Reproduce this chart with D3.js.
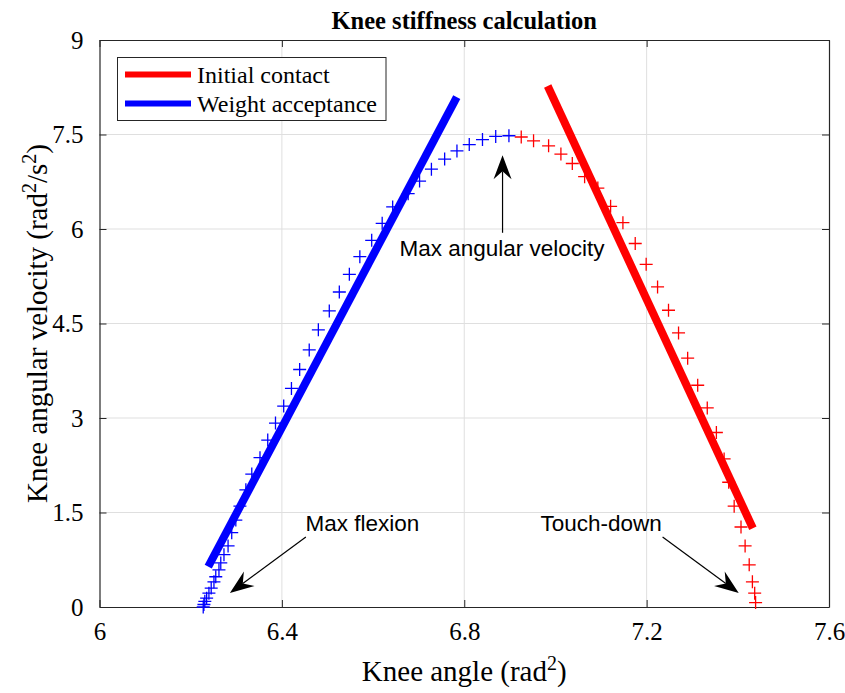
<!DOCTYPE html>
<html>
<head>
<meta charset="utf-8">
<script src="https://cdn.jsdelivr.net/npm/d3@7/dist/d3.min.js"></script>
<style>
  html, body { margin: 0; padding: 0; background: #fff; }
  svg { display: block; }
</style>
</head>
<body>
<script>
// ---------------- data ----------------
const blueX = [6.2275, 6.229, 6.231, 6.235, 6.240, 6.245, 6.251, 6.255, 6.262, 6.266, 6.273, 6.282, 6.290, 6.299, 6.308, 6.321, 6.334, 6.352, 6.369, 6.386, 6.404, 6.421, 6.439, 6.460, 6.480, 6.504, 6.526, 6.548, 6.571, 6.597, 6.620, 6.643, 6.677, 6.702, 6.728, 6.757, 6.784, 6.811, 6.840, 6.869, 6.898];
const blueY = [0.00, 0.04, 0.09, 0.14, 0.22, 0.30, 0.40, 0.48, 0.59, 0.70, 0.83, 0.97, 1.18, 1.38, 1.60, 1.86, 2.11, 2.37, 2.65, 2.92, 3.19, 3.47, 3.77, 4.08, 4.40, 4.70, 5.00, 5.28, 5.56, 5.82, 6.09, 6.35, 6.56, 6.76, 6.95, 7.11, 7.24, 7.34, 7.42, 7.47, 7.48];
const redX = [6.925, 6.952, 6.985, 7.012, 7.037, 7.064, 7.093, 7.121, 7.148, 7.175, 7.199, 7.224, 7.248, 7.270, 7.290, 7.312, 7.333, 7.353, 7.370, 7.380, 7.392, 7.407, 7.416, 7.425, 7.432, 7.437, 7.439];
const redY = [7.46, 7.40, 7.32, 7.19, 7.04, 6.83, 6.65, 6.36, 6.10, 5.77, 5.44, 5.08, 4.71, 4.35, 3.95, 3.52, 3.16, 2.77, 2.35, 1.98, 1.60, 1.27, 0.97, 0.67, 0.40, 0.22, 0.07];
// fitted stiffness lines (endpoints)
const blueFitX = [6.2385, 6.7836];
const blueFitY = [0.64, 8.095];
const redFitX = [6.983, 7.433];
const redFitY = [8.27, 1.25];
// axes ticks
const xTicks = [6, 6.4, 6.8, 7.2, 7.6];
const yTicks = [0, 1.5, 3, 4.5, 6, 7.5, 9];
const yTickLabels = ["0", "1.5", "3", "4.5", "6", "7.5", "9"];
// legend
const legendLabels = ["Initial contact", "Weight acceptance"];
const legendColors = ["#ff0000", "#0000ff"];
// annotations: text, text anchor (data), arrow tail, arrow tip (data)
const annoText = ["Max angular velocity", "Max flexion", "Touch-down"];
const annoTextX = [6.883, 6.5764, 7.1003];
const annoTextY = [5.57, 1.206, 1.206];
const arrowTailX = [6.884, 6.4526, 7.235];
const arrowTailY = [5.94, 1.11, 1.11];
const arrowTipX = [6.884, 6.286, 7.402];
const arrowTipY = [7.17, 0.222, 0.222];

// ---------------- layout ----------------
const W = 845, H = 693;
const m = { left: 99.5, top: 40, right: 845 - 829, bottom: 693 - 607 };
const svg = d3.select("body").append("svg").attr("width", W).attr("height", H);

const x = d3.scaleLinear().domain([6, 7.6]).range([m.left, W - m.right]);
const y = d3.scaleLinear().domain([0, 9]).range([H - m.bottom, m.top]);

const serif = "'Liberation Serif', 'Times New Roman', Times, serif";
const sans = "'Liberation Sans', Arial, Helvetica, sans-serif";

// grid
const grid = svg.append("g").attr("stroke", "#dfdfdf").attr("stroke-width", 1);
xTicks.slice(1, -1).forEach(t => grid.append("line").attr("x1", x(t)).attr("x2", x(t)).attr("y1", y(0)).attr("y2", y(9)));
yTicks.slice(1, -1).forEach(t => grid.append("line").attr("y1", y(t)).attr("y2", y(t)).attr("x1", x(6)).attr("x2", x(7.6)));

// axes using d3 axis (inner ticks)
const axColor = "#262626";
const xAxisB = d3.axisBottom(x).tickValues(xTicks).tickFormat(d3.format("")).tickSizeInner(-7).tickSizeOuter(0).tickPadding(15);
const xAxisT = d3.axisTop(x).tickValues(xTicks).tickFormat("").tickSizeInner(-7).tickSizeOuter(0);
const yAxisL = d3.axisLeft(y).tickValues(yTicks).tickFormat((d, i) => yTickLabels[i]).tickSizeInner(-7).tickSizeOuter(0).tickPadding(16);
const yAxisR = d3.axisRight(y).tickValues(yTicks).tickFormat("").tickSizeInner(-7).tickSizeOuter(0);

function styleAxis(g) {
  g.select(".domain").attr("stroke", axColor).attr("stroke-width", 1.2);
  g.selectAll(".tick line").attr("stroke", axColor).attr("stroke-width", 1);
  g.selectAll(".tick text").attr("fill", "#000").style("font-family", serif).style("font-size", "25px");
}
svg.append("g").attr("transform", `translate(0,${y(0)})`).call(xAxisB).call(styleAxis);
svg.append("g").attr("transform", `translate(0,${y(9)})`).call(xAxisT).call(styleAxis);
svg.append("g").attr("transform", `translate(${x(6)},0)`).call(yAxisL).call(styleAxis);
svg.append("g").attr("transform", `translate(${x(7.6)},0)`).call(yAxisR).call(styleAxis);

// markers (plus signs)
const plot = svg.append("g");
const half = 6.5;
function plusPath(px, py) {
  return `M${px - half},${py}H${px + half}M${px},${py - half}V${py + half}`;
}
plot.append("g").selectAll("path").data(blueX.map((v, i) => [v, blueY[i]])).join("path")
  .attr("d", d => plusPath(x(d[0]), y(d[1]))).attr("stroke", "#0000ff").attr("stroke-width", 1.3).attr("fill", "none");
plot.append("g").selectAll("path").data(redX.map((v, i) => [v, redY[i]])).join("path")
  .attr("d", d => plusPath(x(d[0]), y(d[1]))).attr("stroke", "#ff0000").attr("stroke-width", 1.3).attr("fill", "none");

// fitted lines
const line = d3.line().x(d => x(d[0])).y(d => y(d[1]));
plot.append("path").datum(blueFitX.map((v, i) => [v, blueFitY[i]])).attr("d", line)
  .attr("stroke", "#0000ff").attr("stroke-width", 8).attr("fill", "none");
plot.append("path").datum(redFitX.map((v, i) => [v, redFitY[i]])).attr("d", line)
  .attr("stroke", "#ff0000").attr("stroke-width", 8).attr("fill", "none");

// annotations
const ann = svg.append("g");
annoText.forEach((t, i) => {
  ann.append("text").attr("x", x(annoTextX[i])).attr("y", y(annoTextY[i]))
    .attr("text-anchor", "middle").style("font-family", sans).style("font-size", "22.5px").attr("fill", "#000").text(t);
  const x0 = x(arrowTailX[i]), y0 = y(arrowTailY[i]), x1 = x(arrowTipX[i]), y1 = y(arrowTipY[i]);
  const ang = Math.atan2(y1 - y0, x1 - x0);
  const L = 24, Wd = 9, notch = 16;
  const ux = Math.cos(ang), uy = Math.sin(ang), nx = -uy, ny = ux;
  const bx = x1 - ux * L, by = y1 - uy * L;
  const cx = x1 - ux * notch, cy = y1 - uy * notch;
  ann.append("line").attr("x1", x0).attr("y1", y0).attr("x2", cx).attr("y2", cy).attr("stroke", "#000").attr("stroke-width", 1.2);
  ann.append("path").attr("d", `M${x1},${y1}L${bx + nx * Wd},${by + ny * Wd}L${cx},${cy}L${bx - nx * Wd},${by - ny * Wd}Z`).attr("fill", "#000");
});

// legend
const lg = svg.append("g");
lg.append("rect").attr("x", 117.5).attr("y", 57.5).attr("width", 268.5).attr("height", 63).attr("fill", "#fff").attr("stroke", axColor).attr("stroke-width", 1);
legendLabels.forEach((t, i) => {
  const ly = 74.5 + i * 29;
  lg.append("line").attr("x1", 125).attr("x2", 191).attr("y1", ly).attr("y2", ly).attr("stroke", legendColors[i]).attr("stroke-width", 6);
  lg.append("text").attr("x", 197).attr("y", ly + 8).style("font-family", serif).style("font-size", "24px").attr("fill", "#000").text(t);
});

// title
svg.append("text").attr("x", (x(6) + x(7.6)) / 2).attr("y", 29).attr("text-anchor", "middle")
  .style("font-family", serif).style("font-size", "24.5px").style("font-weight", "bold").text("Knee stiffness calculation");

// axis labels
const xl = svg.append("text").attr("x", (x(6) + x(7.6)) / 2).attr("y", 681).attr("text-anchor", "middle")
  .style("font-family", serif).style("font-size", "29px");
xl.append("tspan").text("Knee angle (rad");
xl.append("tspan").attr("dy", -11).style("font-size", "20px").text("2");
xl.append("tspan").attr("dy", 11).text(")");

const yl = svg.append("text").attr("transform", `translate(47,${(y(0) + y(9)) / 2}) rotate(-90)`).attr("text-anchor", "middle")
  .style("font-family", serif).style("font-size", "29px");
yl.append("tspan").text("Knee angular velocity (rad");
yl.append("tspan").attr("dy", -11).style("font-size", "20px").text("2");
yl.append("tspan").attr("dy", 11).text("/s");
yl.append("tspan").attr("dy", -11).style("font-size", "20px").text("2");
yl.append("tspan").attr("dy", 11).text(")");
</script>
</body>
</html>
